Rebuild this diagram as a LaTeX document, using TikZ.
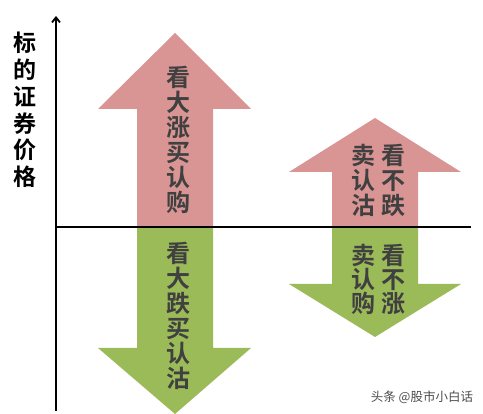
\documentclass[tikz,border=0pt]{standalone}
\usepackage{fontspec}
\newfontfamily\cjk{Noto Sans CJK SC Bold}
\newfontfamily\cjkn{Noto Sans CJK SC}
\usetikzlibrary{arrows.meta}
\definecolor{upc}{HTML}{D99594}
\definecolor{downc}{HTML}{9BBB59}
\definecolor{txt}{HTML}{404040}
\tikzset{
  vtext/.style={font=\cjk\fontsize{24}{25}\selectfont, text=txt, align=center, inner sep=0pt},
  ltext/.style={font=\cjk\fontsize{23}{26.8}\selectfont, text=black, align=center, inner sep=0pt},
  axis/.style={line width=1.8pt, black},
}
\begin{document}
\begin{tikzpicture}[x=1pt,y=-1pt]
\useasboundingbox (0,0) rectangle (483,414);
% arrows
\fill[upc] (137,227) -- (137,109) -- (98,109) -- (175,33) -- (251,109) -- (213,109) -- (213,227) -- cycle;
\fill[downc] (137,227) -- (137,348) -- (98,348) -- (175,414) -- (251,348) -- (213,348) -- (213,227) -- cycle;
\fill[upc] (332,227) -- (332,172) -- (289,172) -- (375,118) -- (461,172) -- (418,172) -- (418,227) -- cycle;
\fill[downc] (332,227) -- (332,284) -- (289,284) -- (375,337) -- (461,284) -- (418,284) -- (418,227) -- cycle;
% axes
\coordinate (o) at (56,227);
\coordinate (ytop) at (56,16);
\coordinate (ybot) at (56,411);
\coordinate (xend) at (471,227);
\draw[axis, -{Straight Barb[length=5pt,width=8pt]}] (ybot) -- (ytop);
\draw[axis] (o) -- (xend);
% texts
\node[ltext] (ylab) at (25,110) {标\\的\\证\\券\\价\\格};
\node[vtext] (t1) at (178,140) {看\\大\\涨\\买\\认\\购};
\node[vtext] (t2) at (178,315.5) {看\\大\\跌\\买\\认\\沽};
\node[vtext] (t3a) at (363,180) {卖\\认\\沽};
\node[vtext] (t3b) at (393,180) {看\\不\\跌};
\node[vtext,font=\cjk\fontsize{24}{24}\selectfont] (t4a) at (363,279) {卖\\认\\购};
\node[vtext,font=\cjk\fontsize{24}{24}\selectfont] (t4b) at (393,279) {看\\不\\涨};
\node[font=\cjkn\fontsize{12.5}{14}\selectfont, text=black!70, inner sep=0pt] (wm) at (422,397) {头条 @股市小白话};
\end{tikzpicture}
\end{document}
